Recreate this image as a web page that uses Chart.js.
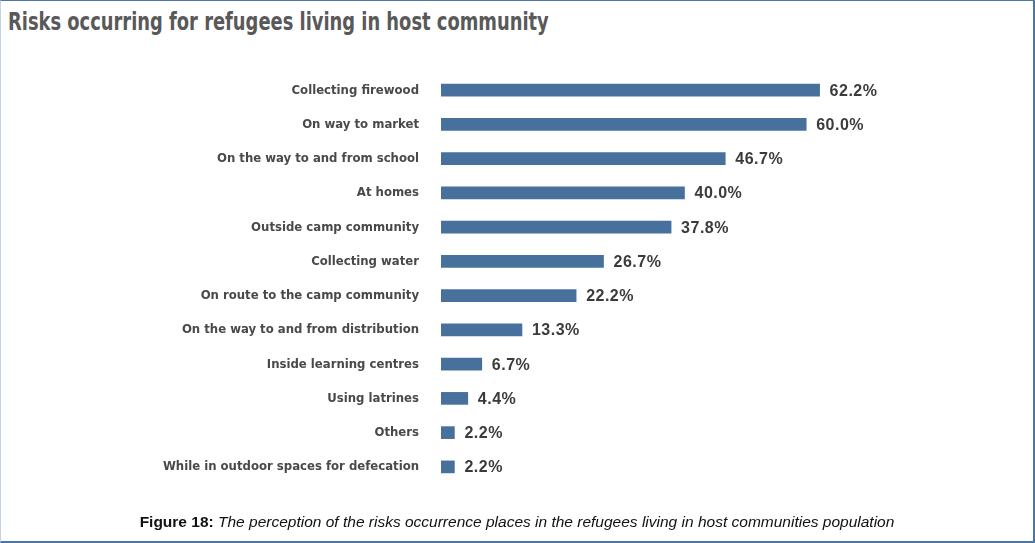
<!DOCTYPE html>
<html>
<head>
<meta charset="utf-8">
<script src="https://cdn.jsdelivr.net/npm/chart.js@4/dist/chart.umd.min.js"></script>
<style>
  html, body { margin: 0; padding: 0; background: #fff; }
  #quadro {
    position: relative; width: 1035px; height: 543px; box-sizing: border-box;
    border-top: 1px solid #4f76a3; border-right: 2px solid #4f76a3;
    border-bottom: 2px solid #4f76a3; border-left: 1px solid #c5d3e4;
    overflow: hidden;
  }
  #titulo {
    position: absolute; left: 7px; top: 6px;
    font: bold 25px "Liberation Sans Narrow", "DejaVu Sans Condensed", sans-serif;
    color: #595959; white-space: nowrap;
    transform-origin: 0 0; transform: scaleX(0.795);
  }
  #legenda {
    position: absolute; left: 0; right: 0; top: 512px; text-align: center;
    font: 15.5px "Liberation Sans", Arial, sans-serif; color: #111; white-space: nowrap;
  }
  #legenda i { font-style: italic; }
  canvas { position: absolute; left: 0; top: 0; }
</style>
</head>
<body>
<div id="quadro">
  <div id="titulo">Risks occurring for refugees living in host community</div>
  <canvas id="grafico-riscos" width="1035" height="543"></canvas>
  <div id="legenda"><b>Figure 18:</b> <i>The perception of the risks occurrence places in the refugees living in host communities population</i></div>
</div>
<script>
const locais = [
  'Collecting firewood',
  'On way to market',
  'On the way to and from school',
  'At homes',
  'Outside camp community',
  'Collecting water',
  'On route to the camp community',
  'On the way to and from distribution',
  'Inside learning centres',
  'Using latrines',
  'Others',
  'While in outdoor spaces for defecation'
];
const percentuais = [62.2, 60.0, 46.7, 40.0, 37.8, 26.7, 22.2, 13.3, 6.7, 4.4, 2.2, 2.2];

// rótulos de valor no fim de cada barra
const rotulosValor = {
  id: 'rotulosValor',
  afterDatasetsDraw(chart) {
    const ctx = chart.ctx;
    const meta = chart.getDatasetMeta(0);
    ctx.save();
    ctx.font = 'bold 16px "Liberation Sans", Arial, sans-serif';
    ctx.letterSpacing = '0.5px';
    ctx.fillStyle = '#3b3b3b';
    ctx.textBaseline = 'middle';
    meta.data.forEach((barra, i) => {
      ctx.fillText(percentuais[i].toFixed(1) + '%', barra.x + 10, barra.y + 1);
    });
    ctx.restore();
  }
};

new Chart(document.getElementById('grafico-riscos'), {
  type: 'bar',
  data: {
    labels: locais,
    datasets: [{
      data: percentuais,
      backgroundColor: '#48709c',
      barThickness: 12,
    }],
  },
  options: {
    indexAxis: 'y',
    responsive: false,
    animation: false,
    layout: { padding: { top: 72, bottom: 60, right: 35, left: 0 } },
    plugins: { legend: { display: false }, tooltip: { enabled: false } },
    scales: {
      x: { display: false, min: 0, max: 92 },
      y: {
        afterFit: (escala) => { escala.width = 440; },
        grid: { display: false, drawTicks: false },
        border: { display: false },
        ticks: {
          padding: 22,
          color: '#494949',
          font: { family: '"Liberation Sans Narrow", "DejaVu Sans Condensed", sans-serif', size: 13, weight: 'bold' },
        },
      },
    },
  },
  plugins: [rotulosValor],
});
</script>
</body>
</html>
